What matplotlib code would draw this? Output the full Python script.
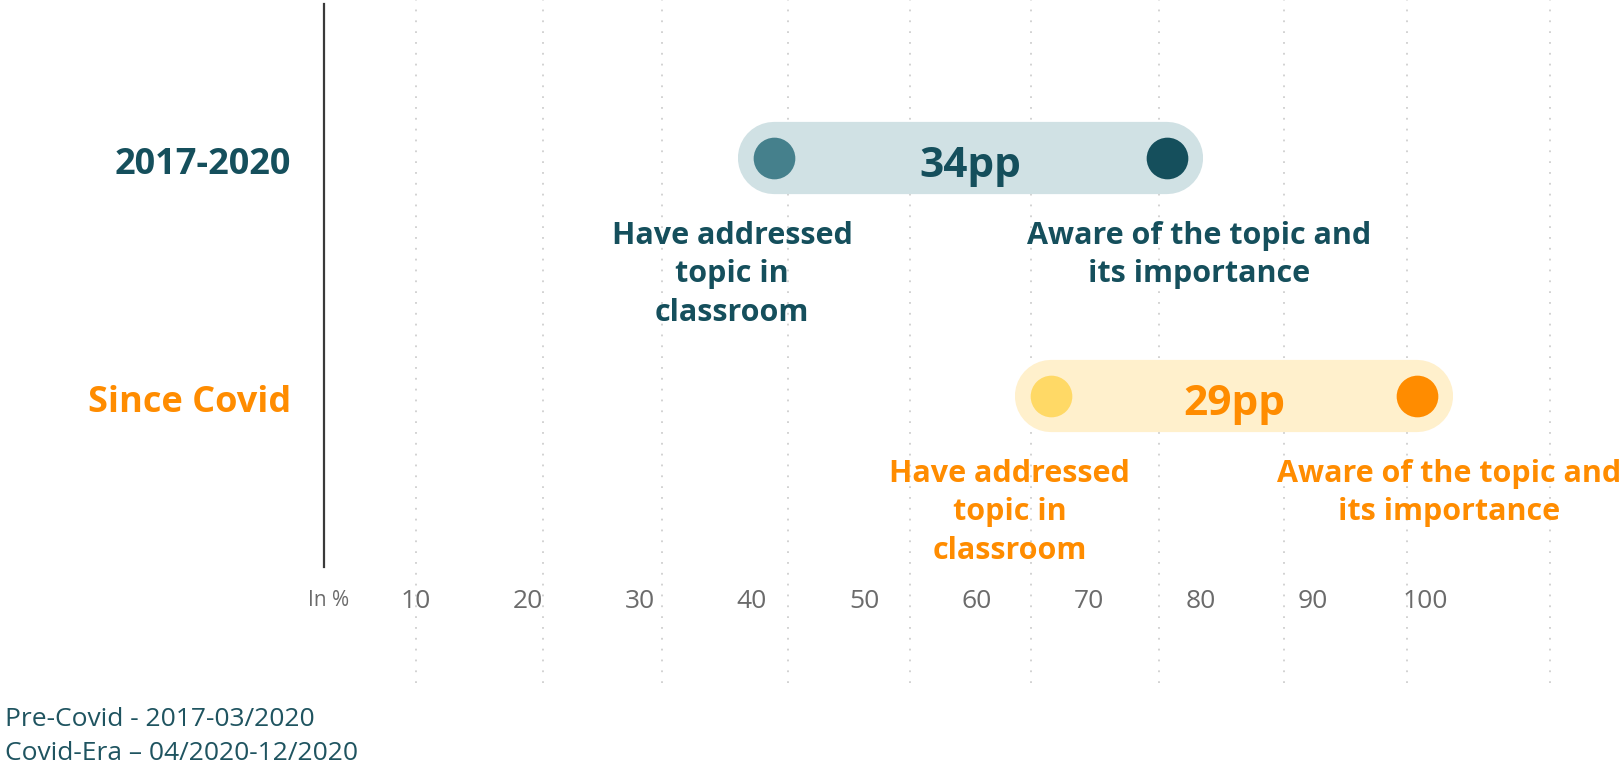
import matplotlib
matplotlib.use('Agg')
import matplotlib.pyplot as plt
from matplotlib.transforms import blended_transform_factory

# ---------------- data ----------------
periods = ["2017-2020", "Since Covid"]
addressed = [42, 66.7]        # % who have addressed topic in classroom
aware = [77, 99.3]            # % aware of the topic and its importance
gap_labels = ["34pp", "29pp"]
ticks = [10, 20, 30, 40, 50, 60, 70, 80, 90, 100]
tick_labels = [str(t) for t in ticks]
grid_positions = [10.1, 21.4, 32.0, 43.2, 54.1, 64.9, 76.3, 87.4, 98.4, 111.1]
label_addressed = "Have addressed\ntopic in\nclassroom"
label_aware = "Aware of the topic and\nits importance"
axis_label = "In %"
footnotes = ["Pre-Covid - 2017-03/2020", "Covid-Era \u2013 04/2020-12/2020"]

# ---------------- style ----------------
plt.rcParams['font.family'] = ['Open Sans', 'DejaVu Sans']
band_colors = ["#d0e1e4", "#fff0cc"]
left_colors = ["#45808c", "#ffd966"]
right_colors = ["#154f5c", "#ff8c00"]
text_colors = ["#154f5c", "#ff8c00"]
foot_color = "#1f5460"

W, H = 1622, 767
fig = plt.figure(figsize=(W / 100, H / 100), dpi=100)
ax = fig.add_axes([0, 0, 1, 1])
px_per_unit = 11.22
x0_px = 303
ax.set_xlim(-x0_px / px_per_unit, (W - x0_px) / px_per_unit)
row0_px, row_step = 158, 238
ax.set_ylim((H - row0_px) / row_step, -row0_px / row_step)

for s in ax.spines.values():
    s.set_visible(False)
ax.set_yticks([])
ax.set_xticks(ticks, tick_labels)
ax.tick_params(axis='x', length=0, pad=-128, labelsize=19, labelcolor='#6b6b6b')

# dotted grid
for g in grid_positions:
    ax.axvline(g, ymin=1 - 683 / H, ymax=1, color='#cfcfcf', lw=1.3,
               linestyle=(0, (1, 5)), zorder=0)

# vertical axis line
axis_x = (324 - x0_px) / px_per_unit
ax.axvline(axis_x, ymin=1 - 567 / H, ymax=1 - 4 / H, color='#3a3a3a', lw=1.6, zorder=1)

trans = blended_transform_factory(ax.transData, ax.transAxes)
ax.text(axis_x + 0.4, 1 - 600 / H, axis_label, transform=trans, ha='center',
        va='center', fontsize=15, color='#6b6b6b')

for i, (p, a, b, gl) in enumerate(zip(periods, addressed, aware, gap_labels)):
    ax.plot([a, b], [i, i], lw=52, color=band_colors[i], solid_capstyle='round', zorder=2)
    ax.plot([a], [i], 'o', ms=30, color=left_colors[i], mec='none', zorder=3)
    ax.plot([b], [i], 'o', ms=30, color=right_colors[i], mec='none', zorder=3)
    ax.annotate(gl, xy=((a + b) / 2, i), xytext=(0, -19), textcoords='offset pixels',
                ha='center', va='baseline', fontsize=30.5, fontweight='bold',
                color=text_colors[i], zorder=4)
    ax.annotate(p, xy=(axis_x, i), xytext=(-33, -7), textcoords='offset pixels',
                ha='right', va='center', fontsize=26, fontweight='bold',
                color=text_colors[i])
    ax.annotate(label_addressed, xy=(a, i), xytext=(-42, -63), textcoords='offset pixels',
                ha='center', va='top', fontsize=22, fontweight='bold',
                color=text_colors[i], linespacing=1.36)
    ax.annotate(label_aware, xy=(b, i), xytext=(32, -63), textcoords='offset pixels',
                ha='center', va='top', fontsize=22, fontweight='bold',
                color=text_colors[i], linespacing=1.36)

fig.text(5 / W, 1 - 720 / H, footnotes[0], ha='left', va='center', fontsize=19, color=foot_color)
fig.text(5 / W, 1 - 754 / H, footnotes[1], ha='left', va='center', fontsize=19, color=foot_color)

fig.savefig('out.png', dpi=100)
